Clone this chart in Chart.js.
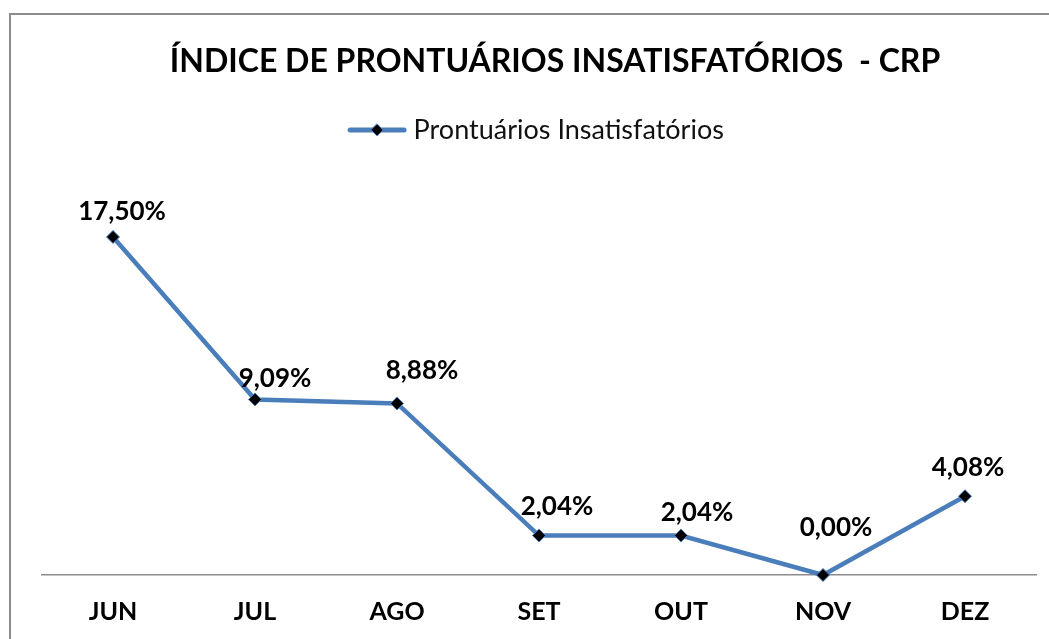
<!DOCTYPE html>
<html lang="pt-BR">
<head>
<meta charset="utf-8">
<title>Índice de Prontuários Insatisfatórios - CRP</title>
<script src="https://cdn.jsdelivr.net/npm/chart.js@4/dist/chart.umd.min.js"></script>
<style>
  html, body { margin: 0; padding: 0; background: #ffffff; overflow: hidden; }
  #wrap { position: relative; width: 1049px; height: 639px; }
  #frame {
    position: absolute; left: 9px; top: 13px; width: 1100px; height: 700px;
    border-left: 2px solid #8c8c8c; border-top: 2px solid #8c8c8c;
    pointer-events: none; box-sizing: border-box;
  }
  canvas { position: absolute; left: 0; top: 0; }
</style>
</head>
<body>
<div id="wrap">
  <canvas id="chart" width="1049" height="639"></canvas>
  <div id="frame"></div>
</div>
<script>
// Meses e percentuais de prontuários insatisfatórios
const months = ['JUN', 'JUL', 'AGO', 'SET', 'OUT', 'NOV', 'DEZ'];
const insatisfatorios = [17.50, 9.09, 8.88, 2.04, 2.04, 0.00, 4.08];
const seriesName = 'Prontuários Insatisfatórios';
const chartTitle = 'ÍNDICE DE PRONTUÁRIOS INSATISFATÓRIOS  - CRP';

const LINE_BLUE = '#4a7ebb';
const FONT = 'Lato, "Open Sans", sans-serif';

// Legend symbol: a short line with a diamond marker in the middle
function legendSymbol() {
  const c = document.createElement('canvas');
  c.width = 60; c.height = 14;
  const g = c.getContext('2d');
  g.strokeStyle = LINE_BLUE; g.lineWidth = 5; g.lineCap = 'round';
  g.beginPath(); g.moveTo(3, 7); g.lineTo(57, 7); g.stroke();
  g.fillStyle = '#000'; g.strokeStyle = LINE_BLUE; g.lineWidth = 1;
  g.beginPath(); g.moveTo(30, 1); g.lineTo(36, 7); g.lineTo(30, 13); g.lineTo(24, 7); g.closePath();
  g.fill(); g.stroke();
  return c;
}

// Chart heading, centred over the whole framed area
const heading = {
  id: 'heading',
  afterDraw(chart, args, opts) {
    const ctx = chart.ctx;
    ctx.save();
    ctx.font = opts.font;
    ctx.fillStyle = '#000';
    ctx.textAlign = 'center';
    ctx.textBaseline = 'middle';
    ctx.fillText(opts.text, opts.x, opts.y);
    ctx.restore();
  }
};

// Value labels above each marker, formatted with a decimal comma
const valueLabels = {
  id: 'valueLabels',
  afterDatasetsDraw(chart, args, opts) {
    const ctx = chart.ctx;
    const meta = chart.getDatasetMeta(0);
    const data = chart.data.datasets[0].data;
    ctx.save();
    ctx.font = opts.font;
    ctx.fillStyle = '#000';
    ctx.textAlign = 'center';
    ctx.textBaseline = 'middle';
    meta.data.forEach((pt, i) => {
      const off = opts.offsets[i] || [0, 24];
      const txt = data[i].toFixed(2).replace('.', ',') + '%';
      ctx.fillText(txt, pt.x + off[0], pt.y - off[1]);
    });
    ctx.restore();
  }
};

new Chart(document.getElementById('chart'), {
  type: 'line',
  data: {
    labels: months,
    datasets: [{
      label: seriesName,
      data: insatisfatorios,
      borderColor: LINE_BLUE,
      borderWidth: 4.5,
      backgroundColor: '#000',
      pointStyle: 'rectRot',
      pointRadius: 6.5,
      pointBorderColor: LINE_BLUE,
      pointBorderWidth: 1,
      pointBackgroundColor: '#000',
      tension: 0,
      clip: false
    }]
  },
  options: {
    responsive: false,
    animation: false,
    events: [],
    layout: { autoPadding: false, padding: { left: 42, right: 13, top: 106.5, bottom: 0 } },
    scales: {
      x: {
        offset: true,
        grid: { display: false },
        border: { display: true, color: '#8c8c8c', width: 1.5 },
        ticks: { color: '#000', font: { family: FONT, size: 25, weight: 'bold' }, padding: 14 },
        afterFit(scale) { scale.height = 64; }
      },
      y: {
        display: false,
        min: 0,
        max: 21.82
      }
    },
    plugins: {
      title: { display: false },
      heading: {
        text: chartTitle,
        font: 'bold 32px ' + FONT,
        x: 555,
        y: 62
      },
      legend: {
        display: true,
        labels: {
          usePointStyle: true,
          pointStyle: legendSymbol(),
          pointStyleWidth: 46,
          boxHeight: 14,
          color: '#111',
          padding: 10,
          font: { family: FONT, size: 27 }
        }
      },
      tooltip: { enabled: false },
      valueLabels: {
        font: 'bold 26px ' + FONT,
        offsets: [[9, 25], [20, 21], [25, 33], [18, 29], [16, 23], [13, 47], [3, 29]]
      }
    }
  },
  plugins: [heading, valueLabels]
});
</script>
</body>
</html>
